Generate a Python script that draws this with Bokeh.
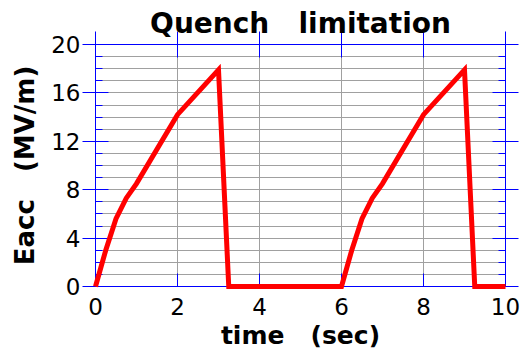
from bokeh.plotting import figure
from bokeh.models import FixedTicker, Range1d, LinearAxis, Grid
from bokeh.embed import file_html
from bokeh.resources import INLINE

# Accelerating field over two fill / quench cycles
time_sec = [0, 0.25, 0.5, 0.75, 1, 2, 3, 3.25, 6, 6.25, 6.5, 6.75, 7, 8, 9, 9.25, 10]
eacc_mv_m = [0, 3.0, 5.6, 7.3, 8.5, 14.2, 17.9, 0, 0, 3.0, 5.6, 7.3, 8.5, 14.2, 17.9, 0, 0]

x_ticks = [0, 2, 4, 6, 8, 10]
y_ticks = [0, 4, 8, 12, 16, 20]
y_minor = list(range(0, 21))
x_grid_lines = [2, 4, 6, 8]

BLUE = "#0000ff"
GRID = "#a0a0a0"
FONT = "DejaVu Sans"
GAP = "\u00a0\u00a0\u00a0"

p = figure(
    width=521, height=352,
    x_range=Range1d(0, 10), y_range=Range1d(0, 20),
    x_axis_location=None, y_axis_location=None,
    min_border_left=95, min_border_right=16,
    min_border_top=44, min_border_bottom=66,
    title="Quench" + GAP + "limitation",
    output_backend="svg", toolbar_location=None,
)
p.outline_line_color = None
p.background_fill_color = "white"
p.border_fill_color = "white"

p.title.text_font = FONT
p.title.text_font_size = "28px"
p.title.text_font_style = "bold"
p.title.text_color = "black"
p.title.align = "center"
p.title.standoff = -16

# horizontal grid every 1 MV/m, vertical grid every 2 s
ygrid = Grid(dimension=1, ticker=FixedTicker(ticks=y_minor[1:-1]),
             grid_line_color=GRID, grid_line_width=1)
xgrid = Grid(dimension=0, ticker=FixedTicker(ticks=x_grid_lines),
             grid_line_color=GRID, grid_line_width=1)
p.add_layout(ygrid)
p.add_layout(xgrid)


def frame_axis(ticks, minor, tick_in, tick_out, minor_in, labels):
    ax = LinearAxis(ticker=FixedTicker(ticks=ticks, minor_ticks=minor))
    ax.axis_line_color = BLUE
    ax.major_tick_line_color = BLUE
    ax.minor_tick_line_color = BLUE
    ax.major_tick_in = tick_in
    ax.major_tick_out = tick_out
    ax.minor_tick_in = minor_in
    ax.minor_tick_out = 0
    if labels:
        ax.major_label_text_font = FONT
        ax.major_label_text_font_size = "23px"
        ax.major_label_text_color = "black"
    else:
        ax.major_label_overrides = {t: "" for t in ticks}
        ax.major_label_text_font_size = "0px"
        ax.major_label_standoff = 0
    ax.axis_label_text_font = FONT
    ax.axis_label_text_font_style = "bold"
    ax.axis_label_text_color = "black"
    return ax


left = frame_axis(y_ticks, y_minor, 13, 13, 7, True)
left.major_label_standoff = 2
left.axis_label = "Eacc" + GAP + "(MV/m)"
left.axis_label_text_font_size = "26px"
left.axis_label_standoff = 8
p.add_layout(left, "left")

right = frame_axis(y_ticks, y_minor, 13, 13, 7, False)
p.add_layout(right, "right")

top = frame_axis(x_ticks, [], 13, 13, 0, False)
p.add_layout(top, "above")

bottom = frame_axis(x_ticks, [], 13, 0, 0, True)
bottom.major_label_standoff = 11
bottom.axis_label = "time" + GAP + "(sec)"
bottom.axis_label_text_font_size = "25px"
bottom.axis_label_standoff = 3
p.add_layout(bottom, "below")

p.line(time_sec, eacc_mv_m, line_color="#ff0000", line_width=5,
       line_join="miter", level="overlay")

open("out.html", "w").write(file_html(p, INLINE))
